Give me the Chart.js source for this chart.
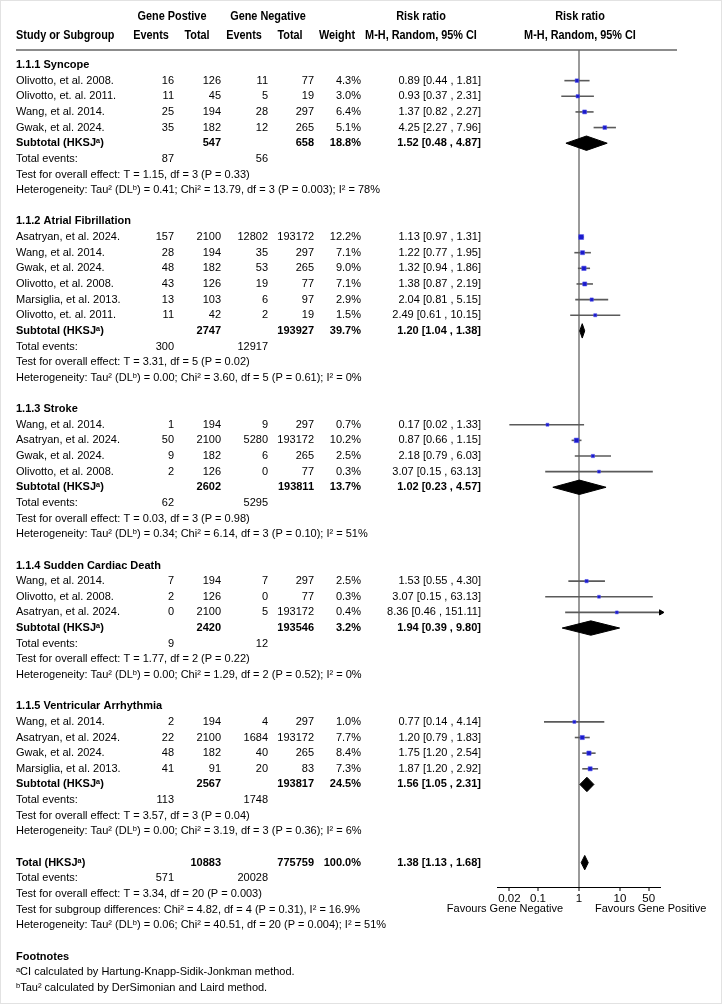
<!DOCTYPE html>
<html>
<head>
<meta charset="utf-8">
<script src="https://cdn.jsdelivr.net/npm/chart.js@4/dist/chart.umd.min.js"></script>
<style>
  html, body { margin: 0; padding: 0; background: #fff; }
  #wrap { width: 722px; height: 1004px; position: relative; }
</style>
</head>
<body>
<div id="wrap"><canvas id="forest"></canvas></div>
<script>
// Forest plot: gene positive vs gene negative, risk ratio (M-H, random)

const groupNames = ["1.1.1 Syncope", "1.1.2 Atrial Fibrillation", "1.1.3 Stroke", "1.1.4 Sudden Cardiac Death", "1.1.5 Ventricular Arrhythmia"]

const studyGroup = [0, 0, 0, 0, 1, 1, 1, 1, 1, 1, 2, 2, 2, 2, 3, 3, 3, 4, 4, 4, 4]
const studyNames = [
  "Olivotto, et al. 2008.", "Olivotto, et. al. 2011.", "Wang, et al. 2014.", "Gwak, et al. 2024.",
  "Asatryan, et al. 2024.", "Wang, et al. 2014.", "Gwak, et al. 2024.", "Olivotto, et al. 2008.", "Marsiglia, et al. 2013.", "Olivotto, et. al. 2011.",
  "Wang, et al. 2014.", "Asatryan, et al. 2024.", "Gwak, et al. 2024.", "Olivotto, et al. 2008.",
  "Wang, et al. 2014.", "Olivotto, et al. 2008.", "Asatryan, et al. 2024.",
  "Wang, et al. 2014.", "Asatryan, et al. 2024.", "Gwak, et al. 2024.", "Marsiglia, et al. 2013.",
]
const posEvents = [16, 11, 25, 35, 157, 28, 48, 43, 13, 11, 1, 50, 9, 2, 7, 2, 0, 2, 22, 48, 41]
const posTotal = [126, 45, 194, 182, 2100, 194, 182, 126, 103, 42, 194, 2100, 182, 126, 194, 126, 2100, 194, 2100, 182, 91]
const negEvents = [11, 5, 28, 12, 12802, 35, 53, 19, 6, 2, 9, 5280, 6, 0, 7, 0, 5, 4, 1684, 40, 20]
const negTotal = [77, 19, 297, 265, 193172, 297, 265, 77, 97, 19, 297, 193172, 265, 77, 297, 77, 193172, 297, 193172, 265, 83]
const weights = [4.3, 3.0, 6.4, 5.1, 12.2, 7.1, 9.0, 7.1, 2.9, 1.5, 0.7, 10.2, 2.5, 0.3, 2.5, 0.3, 0.4, 1.0, 7.7, 8.4, 7.3]
const rr = [0.89, 0.93, 1.37, 4.25, 1.13, 1.22, 1.32, 1.38, 2.04, 2.49, 0.17, 0.87, 2.18, 3.07, 1.53, 3.07, 8.36, 0.77, 1.20, 1.75, 1.87]
const rrLow = [0.44, 0.37, 0.82, 2.27, 0.97, 0.77, 0.94, 0.87, 0.81, 0.61, 0.02, 0.66, 0.79, 0.15, 0.55, 0.15, 0.46, 0.14, 0.79, 1.20, 1.20]
const rrHigh = [1.81, 2.31, 2.27, 7.96, 1.31, 1.95, 1.86, 2.19, 5.15, 10.15, 1.33, 1.15, 6.03, 63.13, 4.30, 63.13, 151.11, 4.14, 1.83, 2.54, 2.92]

const subPosTotal = [547, 2747, 2602, 2420, 2567]
const subNegTotal = [658, 193927, 193811, 193546, 193817]
const subWeight = [18.8, 39.7, 13.7, 3.2, 24.5]
const subRR = [1.52, 1.20, 1.02, 1.94, 1.56]
const subLow = [0.48, 1.04, 0.23, 0.39, 1.05]
const subHigh = [4.87, 1.38, 4.57, 9.80, 2.31]
const subPosEvents = [87, 300, 62, 9, 113]
const subNegEvents = [56, 12917, 5295, 12, 1748]
const subT = ["1.15", "3.31", "0.03", "1.77", "3.57"]
const subDf = [3, 5, 3, 2, 3]
const subP = ["0.33", "0.02", "0.98", "0.22", "0.04"]
const subTau = ["0.41", "0.00", "0.34", "0.00", "0.00"]
const subChi = ["13.79", "3.60", "6.14", "1.29", "3.19"]
const subHetP = ["0.003", "0.61", "0.10", "0.52", "0.36"]
const subI2 = [78, 0, 51, 0, 6]

const totalPosTotal = 10883
const totalNegTotal = 775759
const totalWeight = 100.0
const totalRR = [1.38, 1.13, 1.68]
const totalEvents = [571, 20028]
const totalTest = ["3.34", 20, "0.003"]
const subgroupDiff = ["4.82", 4, "0.31", "16.9"]
const totalHet = ["0.06", "40.51", 20, "0.004", 51]

const xTicks = [0.02, 0.1, 1, 10, 50]
const X_MIN = 0.01
const X_MAX = 100

// layout
const ROW0_Y = 65
const ROW_H = 15.64
const PLOT_TOP = 50
const PLOT_BOTTOM = 887
const AXIS_H = 30
const FONT = '"Liberation Sans", Arial, "DejaVu Sans", sans-serif'
const COL = { study: 16, posEv: 174, posTot: 221, negEv: 268, negTot: 314, weight: 361, ci: 481 }

// row numbers, built from the section structure
const studyRow = []
const headRow = [], subRow = []
let row = 0
groupNames.forEach((g, gi) => {
  headRow[gi] = row++
  studyGroup.forEach((sg, i) => { if (sg === gi) studyRow[i] = row++ })
  subRow[gi] = row
  row += 5
})
const totalRow = row
const footRow = totalRow + 6

const ciText = (e, l, h) => `${e.toFixed(2)} [${l.toFixed(2)} , ${h.toFixed(2)}]`

const datasets = []

// study CI lines
studyNames.forEach((n, i) => {
  datasets.push({
    type: "line",
    data: [
      { x: Math.max(rrLow[i], X_MIN), y: studyRow[i] },
      { x: Math.min(rrHigh[i], X_MAX), y: studyRow[i] },
    ],
    borderColor: "#5a5a5a",
    borderWidth: 1.6,
    pointRadius: 0,
    fill: false,
    order: 2,
  })
})

// diamonds for subtotals and total
function diamond(est, lo, hi, r) {
  const h = 0.46
  return {
    type: "line",
    data: [
      { x: lo, y: r }, { x: est, y: r - h }, { x: hi, y: r }, { x: est, y: r + h }, { x: lo, y: r },
    ],
    borderColor: "#000",
    backgroundColor: "#000",
    borderWidth: 1,
    pointRadius: 0,
    fill: "shape",
    tension: 0,
    order: 1,
  }
}
groupNames.forEach((g, gi) => datasets.push(diamond(subRR[gi], subLow[gi], subHigh[gi], subRow[gi])))
datasets.push(diamond(totalRR[0], totalRR[1], totalRR[2], totalRow))

// study point estimates
datasets.push({
  type: "scatter",
  data: rr.map((v, i) => ({ x: v, y: studyRow[i] })),
  pointStyle: "rect",
  pointRadius: weights.map((w) => 2 + w * 0.12),
  backgroundColor: "#1a1acc",
  borderColor: "rgba(80,80,235,0.55)",
  borderWidth: 1,
  order: 0,
})

// arrows where CI runs past the axis
datasets.push({
  type: "scatter",
  data: rrHigh.map((v, i) => (v > X_MAX ? { x: X_MAX, y: studyRow[i] } : null)).filter(Boolean),
  pointStyle: "triangle",
  rotation: 90,
  pointRadius: 3,
  backgroundColor: "#000",
  borderColor: "#000",
  borderWidth: 1,
  clip: false,
  order: 0,
})

const textPlugin = {
  id: "forestText",
  afterDraw(chart) {
    const ctx = chart.ctx
    const ys = chart.scales.y
    const xs = chart.scales.x
    const rowY = (r) => ys.getPixelForValue(r)
    ctx.save()
    ctx.fillStyle = "#000"
    ctx.textBaseline = "middle"

    const put = (t, x, y, align, bold) => {
      ctx.font = (bold ? "bold " : "") + "11px " + FONT
      ctx.textAlign = align
      ctx.fillText(String(t), x, y)
    }
    const head = (t, x, y, align) => {
      ctx.save()
      ctx.font = "bold 12.5px " + FONT
      ctx.textAlign = align
      ctx.translate(x, y)
      ctx.scale(0.87, 1)
      ctx.fillText(t, 0, 0)
      ctx.restore()
    }

    // column headers
    head("Gene Postive", 172, 17, "center")
    head("Gene Negative", 268, 17, "center")
    head("Risk ratio", 421, 17, "center")
    head("Risk ratio", 580, 17, "center")
    head("Study or Subgroup", 16, 36, "left")
    head("Events", 151, 36, "center")
    head("Total", 197, 36, "center")
    head("Events", 244, 36, "center")
    head("Total", 290, 36, "center")
    head("Weight", 337, 36, "center")
    head("M-H, Random, 95% CI", 421, 36, "center")
    head("M-H, Random, 95% CI", 580, 36, "center")

    ctx.strokeStyle = "#666"
    ctx.lineWidth = 1.5
    ctx.beginPath()
    ctx.moveTo(16, 50)
    ctx.lineTo(677, 50)
    ctx.stroke()

    // studies
    studyNames.forEach((n, i) => {
      const y = rowY(studyRow[i])
      put(n, COL.study, y, "left")
      put(posEvents[i], COL.posEv, y, "right")
      put(posTotal[i], COL.posTot, y, "right")
      put(negEvents[i], COL.negEv, y, "right")
      put(negTotal[i], COL.negTot, y, "right")
      put(weights[i].toFixed(1) + "%", COL.weight, y, "right")
      put(ciText(rr[i], rrLow[i], rrHigh[i]), COL.ci, y, "right")
    })

    // subgroup blocks
    groupNames.forEach((g, gi) => {
      put(g, COL.study, rowY(headRow[gi]), "left", true)
      let y = rowY(subRow[gi])
      put("Subtotal (HKSJ\u1D43)", COL.study, y, "left", true)
      put(subPosTotal[gi], COL.posTot, y, "right", true)
      put(subNegTotal[gi], COL.negTot, y, "right", true)
      put(subWeight[gi].toFixed(1) + "%", COL.weight, y, "right", true)
      put(ciText(subRR[gi], subLow[gi], subHigh[gi]), COL.ci, y, "right", true)
      y = rowY(subRow[gi] + 1)
      put("Total events:", COL.study, y, "left")
      put(subPosEvents[gi], COL.posEv, y, "right")
      put(subNegEvents[gi], COL.negEv, y, "right")
      put(`Test for overall effect: T = ${subT[gi]}, df = ${subDf[gi]} (P = ${subP[gi]})`, COL.study, rowY(subRow[gi] + 2), "left")
      put(`Heterogeneity: Tau\u00B2 (DL\u1D47) = ${subTau[gi]}; Chi\u00B2 = ${subChi[gi]}, df = ${subDf[gi]} (P = ${subHetP[gi]}); I\u00B2 = ${subI2[gi]}%`, COL.study, rowY(subRow[gi] + 3), "left")
    })

    // overall
    let y = rowY(totalRow)
    put("Total (HKSJ\u1D43)", COL.study, y, "left", true)
    put(totalPosTotal, COL.posTot, y, "right", true)
    put(totalNegTotal, COL.negTot, y, "right", true)
    put(totalWeight.toFixed(1) + "%", COL.weight, y, "right", true)
    put(ciText(totalRR[0], totalRR[1], totalRR[2]), COL.ci, y, "right", true)
    y = rowY(totalRow + 1)
    put("Total events:", COL.study, y, "left")
    put(totalEvents[0], COL.posEv, y, "right")
    put(totalEvents[1], COL.negEv, y, "right")
    put(`Test for overall effect: T = ${totalTest[0]}, df = ${totalTest[1]} (P = ${totalTest[2]})`, COL.study, rowY(totalRow + 2), "left")
    put(`Test for subgroup differences: Chi\u00B2 = ${subgroupDiff[0]}, df = ${subgroupDiff[1]} (P = ${subgroupDiff[2]}), I\u00B2 = ${subgroupDiff[3]}%`, COL.study, rowY(totalRow + 3), "left")
    put(`Heterogeneity: Tau\u00B2 (DL\u1D47) = ${totalHet[0]}; Chi\u00B2 = ${totalHet[1]}, df = ${totalHet[2]} (P = ${totalHet[3]}); I\u00B2 = ${totalHet[4]}%`, COL.study, rowY(totalRow + 4), "left")

    // footnotes
    put("Footnotes", COL.study, rowY(footRow), "left", true)
    put("\u1D43CI calculated by Hartung-Knapp-Sidik-Jonkman method.", COL.study, rowY(footRow + 1), "left")
    put("\u1D47Tau\u00B2 calculated by DerSimonian and Laird method.", COL.study, rowY(footRow + 2), "left")

    // favours labels
    const x1 = xs.getPixelForValue(1)
    put("Favours Gene Negative", x1 - 16, 909, "right")
    put("Favours Gene Positive", x1 + 16, 909, "left")

    // frame
    ctx.strokeStyle = "#e2e2e2"
    ctx.lineWidth = 1
    ctx.strokeRect(0.5, 0.5, 721, 1003)
    ctx.restore()
  },
}

new Chart(document.getElementById("forest"), {
  type: "scatter",
  data: { datasets: datasets },
  options: {
    responsive: true,
    maintainAspectRatio: false,
    animation: false,
    events: [],
    layout: {
      padding: { left: 497, right: 722 - 661, top: PLOT_TOP, bottom: 1004 - PLOT_BOTTOM - AXIS_H },
    },
    plugins: {
      legend: { display: false },
      tooltip: { enabled: false },
    },
    scales: {
      x: {
        type: "logarithmic",
        min: X_MIN,
        max: X_MAX,
        bounds: "data",
        afterFit: (s) => { s.height = AXIS_H },
        afterBuildTicks: (s) => { s.ticks = xTicks.map((v) => ({ value: v })) },
        ticks: {
          autoSkip: false,
          maxRotation: 0,
          padding: 1,
          color: "#000",
          font: { family: FONT, size: 11.5 },
          callback: (v) => String(v),
        },
        grid: {
          drawOnChartArea: true,
          color: (c) => (c.tick && c.tick.value === 1 ? "#9a9a9a" : "rgba(0,0,0,0)"),
          lineWidth: (c) => (c.tick && c.tick.value === 1 ? 2 : 0),
          tickColor: "#000",
          tickWidth: 1,
          tickLength: 4,
        },
        border: { display: true, color: "#000", width: 1 },
      },
      y: {
        type: "linear",
        display: false,
        reverse: true,
        min: (PLOT_TOP - ROW0_Y) / ROW_H,
        max: (PLOT_BOTTOM - ROW0_Y) / ROW_H,
      },
    },
  },
  plugins: [textPlugin],
})
</script>
</body>
</html>
